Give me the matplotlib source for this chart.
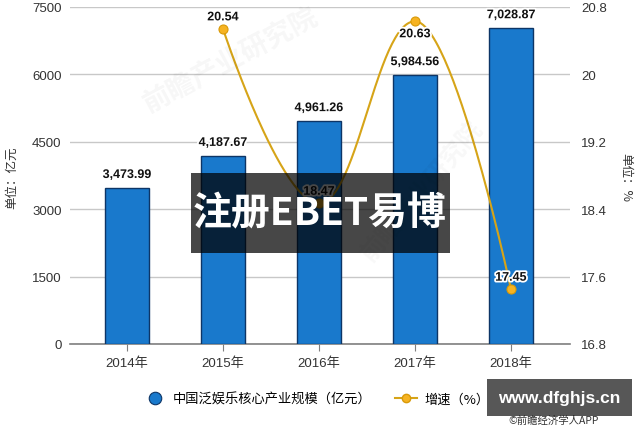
import numpy as np
import matplotlib
matplotlib.use("Agg")
import matplotlib.pyplot as plt
import matplotlib.patheffects as pe
from matplotlib.lines import Line2D
from matplotlib.patches import Rectangle

categories = ["2014年", "2015年", "2016年", "2017年", "2018年"]
scale_values = [3473.99, 4187.67, 4961.26, 5984.56, 7028.87]
growth_years = ["2015年", "2016年", "2017年", "2018年"]
growth_values = [20.54, 18.47, 20.63, 17.45]
left_ticks = [0, 1500, 3000, 4500, 6000, 7500]
right_ticks = [16.8, 17.6, 18.4, 19.2, 20.0, 20.8]
right_tick_labels = ["16.8", "17.6", "18.4", "19.2", "20", "20.8"]

FAM = ["Liberation Sans", "Noto Sans CJK SC", "DejaVu Sans"]
CJK = ["Noto Sans CJK SC", "DejaVu Sans"]
plt.rcParams["font.family"] = FAM

BAR = "#1979cc"
BAR_EDGE = "#0d3566"
LINE = "#d6a418"
MARK = "#f6b322"
MARK_EDGE = "#d99a08"


def highcharts_spline(xs, ys, smoothing=1.5):
    n = len(xs)
    denom = smoothing + 1
    lc = [(xs[i], ys[i]) for i in range(n)]
    rc = [(xs[i], ys[i]) for i in range(n)]
    for i in range(1, n - 1):
        px, py = xs[i], ys[i]
        lx, ly = xs[i - 1], ys[i - 1]
        nx, ny = xs[i + 1], ys[i + 1]
        lcx = (smoothing * px + lx) / denom
        lcy = (smoothing * py + ly) / denom
        rcx = (smoothing * px + nx) / denom
        rcy = (smoothing * py + ny) / denom
        corr = ((rcy - lcy) * (rcx - px)) / (rcx - lcx) + py - rcy
        lcy += corr; rcy += corr
        if lcy > ly and lcy > py:
            lcy = max(ly, py); rcy = 2 * py - lcy
        elif lcy < ly and lcy < py:
            lcy = min(ly, py); rcy = 2 * py - lcy
        if rcy > ny and rcy > py:
            rcy = max(ny, py); lcy = 2 * py - rcy
        elif rcy < ny and rcy < py:
            rcy = min(ny, py); lcy = 2 * py - rcy
        lc[i] = (lcx, lcy); rc[i] = (rcx, rcy)
    t = np.linspace(0, 1, 60)[:, None]
    pts = []
    for i in range(n - 1):
        p0 = np.array([xs[i], ys[i]])
        p1 = np.array(rc[i])
        p2 = np.array(lc[i + 1])
        p3 = np.array([xs[i + 1], ys[i + 1]])
        seg = ((1 - t) ** 3) * p0 + 3 * ((1 - t) ** 2) * t * p1 + 3 * (1 - t) * t ** 2 * p2 + t ** 3 * p3
        pts.append(seg)
    pts = np.vstack(pts)
    return pts[:, 0], pts[:, 1]


fig = plt.figure(figsize=(6.4, 4.27), dpi=100)
ax = fig.add_axes([70 / 640, 1 - 345 / 427, 500 / 640, 337 / 427])
ax2 = ax.twinx()

x = np.arange(len(categories))
ax.bar(x, scale_values, width=0.46, color=BAR, edgecolor=BAR_EDGE, linewidth=1.0, zorder=3)
ax.set_xlim(-0.594, 4.615)
ax.set_ylim(0, 7500)
ax.set_yticks(left_ticks)
ax.set_yticklabels([str(v) for v in left_ticks])
ax.grid(axis="y", color="#c8c8c8", linewidth=1.0, zorder=0)
ax.set_axisbelow(True)
for s in ["top", "right", "left"]:
    ax.spines[s].set_visible(False)
ax.spines["bottom"].set_color("#7f7f7f")
ax.spines["bottom"].set_linewidth(1.2)
ax.set_xticks(x)
ax.set_xticklabels(categories)
ax.tick_params(axis="x", length=5, color="#7f7f7f", labelsize=9.5, labelcolor="#333333", pad=4)
ax.tick_params(axis="y", length=0, labelsize=9.5, labelcolor="#333333", pad=6)

outline = [pe.withStroke(linewidth=2.6, foreground="white")]
for xi, v in zip(x, scale_values):
    ax.annotate(f"{v:,.2f}", (xi, v), xytext=(0, 5), textcoords="offset points",
                ha="center", va="bottom", fontsize=9, fontweight="bold",
                color="#111111", path_effects=outline, zorder=6)

gx = np.array([categories.index(c) for c in growth_years], dtype=float)
sx, sy = highcharts_spline(list(gx), list(growth_values))
ax2.plot(sx, sy, color=LINE, linewidth=1.5, zorder=5)
ax2.plot(gx, growth_values, linestyle="none", marker="o", markersize=6.5, markerfacecolor=MARK,
         markeredgecolor=MARK_EDGE, markeredgewidth=0.8, zorder=6)
ax2.set_ylim(16.8, 20.8)
ax2.set_yticks(right_ticks)
ax2.set_yticklabels(right_tick_labels)
ax2.tick_params(axis="y", length=0, labelsize=9.5, labelcolor="#333333", pad=8)
for s in ["top", "right", "left", "bottom"]:
    ax2.spines[s].set_visible(False)

above = [True, True, False, True]
for xi, v, up in zip(gx, growth_values, above):
    ax2.annotate(f"{v:.2f}", (xi, v), xytext=(0, 4 if up else -5), textcoords="offset points",
                 ha="center", va="bottom" if up else "top", fontsize=9,
                 fontweight="bold", color="#111111", path_effects=outline, zorder=7)

fig.text(12 / 640, 1 - 178 / 427, "单位：亿元", rotation=90, ha="center", va="center",
         fontsize=9, color="#333333", family=CJK)
fig.text(626 / 640, 1 - 178 / 427, "单位：%", rotation=270, ha="center", va="center",
         fontsize=9, color="#333333", family=CJK)

# faint background watermark
fig.text(0.36, 0.86, "前瞻产业研究院", rotation=28, ha="center", va="center", fontsize=20,
         color="#000000", alpha=0.035, family=CJK, fontweight="bold")
fig.text(0.66, 0.55, "前瞻产业研究院", rotation=50, ha="center", va="center", fontsize=18,
         color="#000000", alpha=0.03, family=CJK, fontweight="bold")

handles = [
    Line2D([], [], linestyle="none", marker="o", markersize=9, markerfacecolor=BAR,
           markeredgecolor=BAR_EDGE, markeredgewidth=0.8),
    Line2D([], [], color=LINE, linewidth=1.5, marker="o", markersize=6, markerfacecolor=MARK,
           markeredgecolor=MARK_EDGE),
]
fig.legend(handles, ["中国泛娱乐核心产业规模（亿元）", "增速（%）"], loc="center",
           bbox_to_anchor=(0.495, 1 - 400 / 427), ncol=2, frameon=False,
           handlelength=1.6, columnspacing=1.8, handletextpad=0.6, prop={"family": CJK, "size": 9.5})

# overlay boxes
fig.patches.append(Rectangle((191 / 640, 1 - 254 / 427), 259 / 640, 80 / 427, transform=fig.transFigure,
                             facecolor="black", alpha=0.72, edgecolor="none", zorder=20))
fig.text(320 / 640, 1 - 214 / 427, "注册EBET易博", ha="center", va="center", fontsize=28,
         fontweight="bold", color="white", family=CJK, zorder=21)
fig.patches.append(Rectangle((487 / 640, 1 - 417 / 427), 145 / 640, 37 / 427, transform=fig.transFigure,
                             facecolor="black", alpha=0.66, edgecolor="none", zorder=20))
fig.text(559 / 640, 1 - 399 / 427, "www.dfghjs.cn", ha="center", va="center", fontsize=12.5,
         fontweight="bold", color="white", zorder=21)
fig.text(508 / 640, 1 / 427, "©前瞻经济学人APP", ha="left", va="bottom", fontsize=7.5,
         color="#333333", family=CJK)

fig.savefig("out.png", dpi=100)
